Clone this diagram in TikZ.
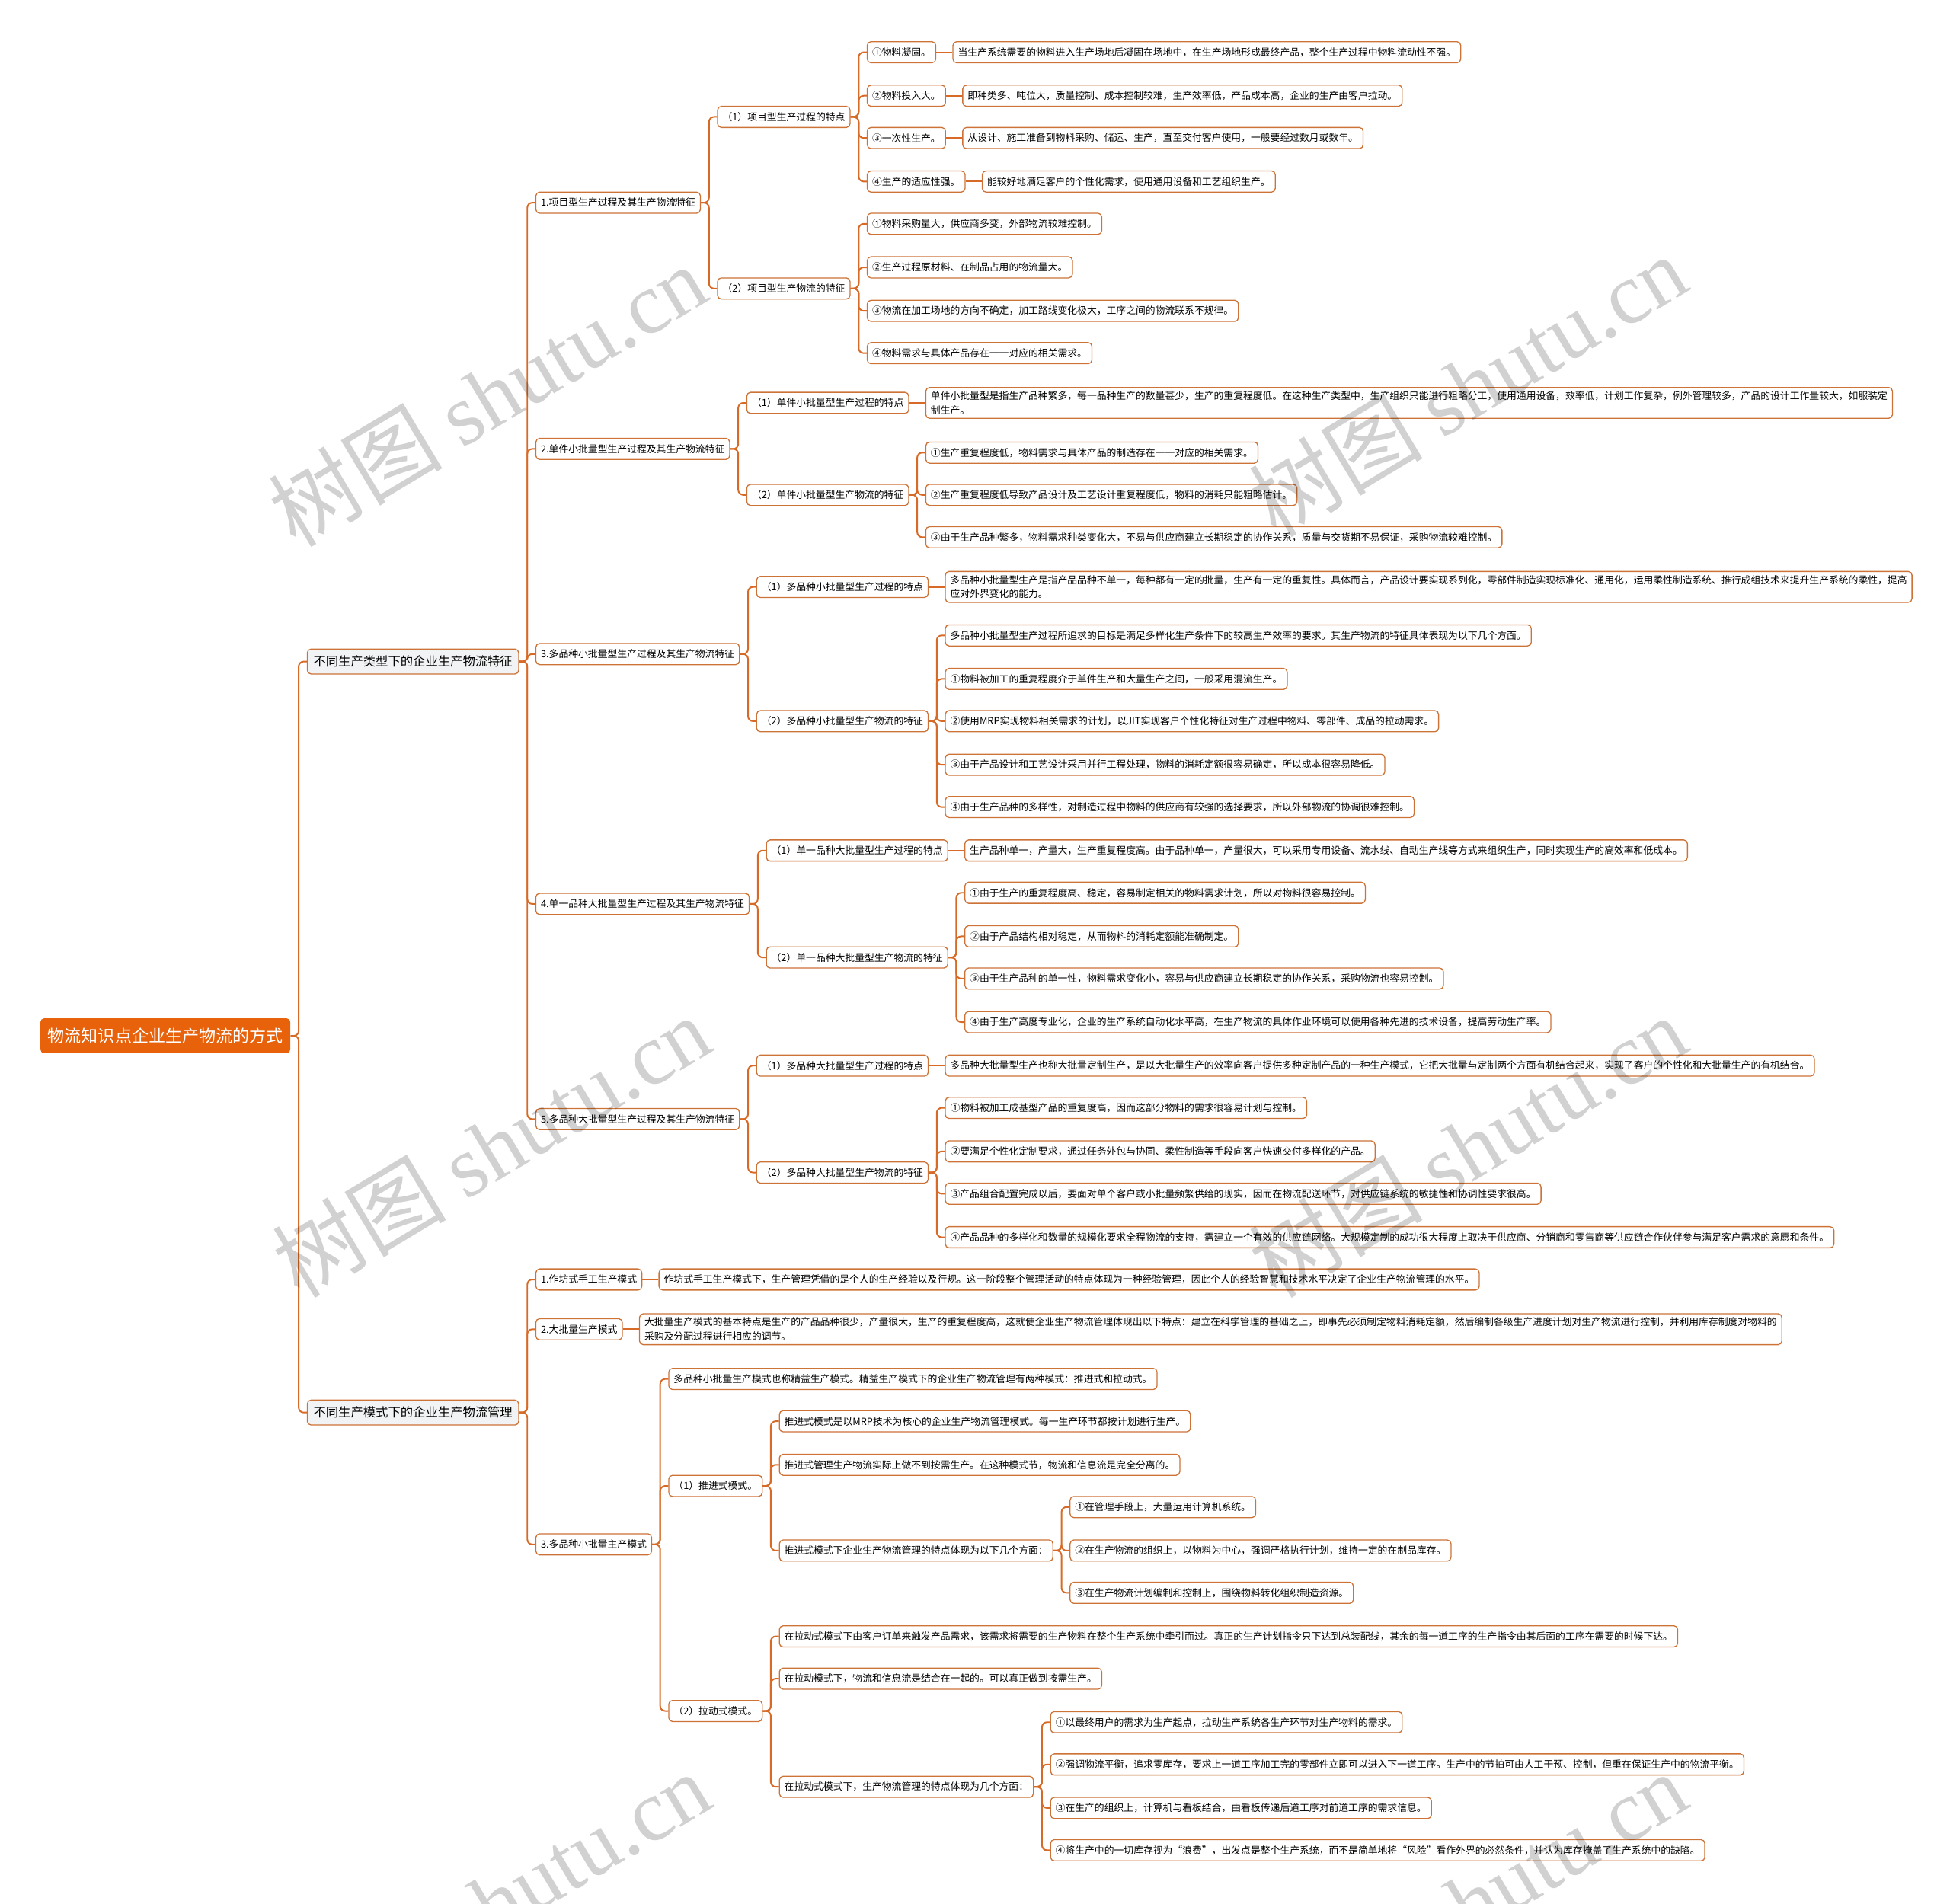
\documentclass[tikz,border=0pt]{standalone}
\usepackage{fontspec}
\setmainfont{Noto Sans CJK SC}
\newfontfamily\wmfont{Liberation Serif}
\usetikzlibrary{positioning}
\definecolor{zhuse}{HTML}{E8620C}
\definecolor{xian}{HTML}{D66A26}
\definecolor{kuang}{HTML}{CD7338}
\definecolor{huidi}{HTML}{F2F3F5}
\begin{document}
\begin{tikzpicture}[x=1pt, y=1pt, node distance=13pt,
    root/.style={fill=zhuse, text=white, rounded corners=3pt, font=\fontsize{13.5}{16}\selectfont, inner xsep=6pt, minimum height=28pt},
    topic/.style={draw=kuang, fill=huidi, rounded corners=3pt, line width=0.8pt, font=\fontsize{10}{12}\selectfont, inner xsep=5pt, minimum height=20pt},
    sub/.style={draw=kuang, fill=white, rounded corners=3pt, line width=0.8pt, font=\fontsize{7.85}{11.5}\selectfont, inner xsep=4pt, inner ysep=3pt, minimum height=17pt, align=left},
    link/.style={draw=xian, line width=1.2pt, rounded corners=4pt},
    wm/.style={text=black, text opacity=0.18, rotate=31, font=\fontsize{70}{70}\selectfont}]
    \useasboundingbox (0,0) rectangle (1568,-1531);

    % 中心主题
    \node[root] (root) at (133,-833) {物流知识点企业生产物流的方式};
    \node[topic, right=of root, yshift=301pt] (typ) {不同生产类型下的企业生产物流特征};
    \node[topic, right=of root, yshift=-303pt] (mod) {不同生产模式下的企业生产物流管理};

    % 不同生产类型
    \node[sub, right=of typ, yshift=369pt] (typ1) {1.项目型生产过程及其生产物流特征};
    \node[sub, right=of typ, yshift=171pt] (typ2) {2.单件小批量型生产过程及其生产物流特征};
    \node[sub, right=of typ, yshift=6pt] (typ3) {3.多品种小批量型生产过程及其生产物流特征};
    \node[sub, right=of typ, yshift=-195pt] (typ4) {4.单一品种大批量型生产过程及其生产物流特征};
    \node[sub, right=of typ, yshift=-368pt] (typ5) {5.多品种大批量型生产过程及其生产物流特征};

    % 1 项目型
    \node[sub, right=of typ1, yshift=69pt] (typ1a) {（1）项目型生产过程的特点};
    \node[sub, right=of typ1, yshift=-69pt] (typ1b) {（2）项目型生产物流的特征};
    \node[sub, right=of typ1a, yshift=52pt] (typ1a1) {①物料凝固。};
    \node[sub, right=of typ1a, yshift=17pt] (typ1a2) {②物料投入大。};
    \node[sub, right=of typ1a, yshift=-17pt] (typ1a3) {③一次性生产。};
    \node[sub, right=of typ1a, yshift=-52pt] (typ1a4) {④生产的适应性强。};
    \node[sub, right=of typ1a1] (typ1a1d) {当生产系统需要的物料进入生产场地后凝固在场地中，在生产场地形成最终产品，整个生产过程中物料流动性不强。};
    \node[sub, right=of typ1a2] (typ1a2d) {即种类多、吨位大，质量控制、成本控制较难，生产效率低，产品成本高，企业的生产由客户拉动。};
    \node[sub, right=of typ1a3] (typ1a3d) {从设计、施工准备到物料采购、储运、生产，直至交付客户使用，一般要经过数月或数年。};
    \node[sub, right=of typ1a4] (typ1a4d) {能较好地满足客户的个性化需求，使用通用设备和工艺组织生产。};
    \node[sub, right=of typ1b, yshift=52pt] (typ1b1) {①物料采购量大，供应商多变，外部物流较难控制。};
    \node[sub, right=of typ1b, yshift=17pt] (typ1b2) {②生产过程原材料、在制品占用的物流量大。};
    \node[sub, right=of typ1b, yshift=-18pt] (typ1b3) {③物流在加工场地的方向不确定，加工路线变化极大，工序之间的物流联系不规律。};
    \node[sub, right=of typ1b, yshift=-52pt] (typ1b4) {④物料需求与具体产品存在一一对应的相关需求。};

    % 2 单件小批量型
    \node[sub, right=of typ2, yshift=37pt] (typ2a) {（1）单件小批量型生产过程的特点};
    \node[sub, right=of typ2, yshift=-37pt] (typ2b) {（2）单件小批量型生产物流的特征};
    \node[sub, right=of typ2a] (typ2ad) {单件小批量型是指生产品种繁多，每一品种生产的数量甚少，生产的重复程度低。在这种生产类型中，生产组织只能进行粗略分工，使用通用设备，效率低，计划工作复杂，例外管理较多，产品的设计工作量较大，如服装定\\制生产。};
    \node[sub, right=of typ2b, yshift=34pt] (typ2b1) {①生产重复程度低，物料需求与具体产品的制造存在一一对应的相关需求。};
    \node[sub, right=of typ2b] (typ2b2) {②生产重复程度低导致产品设计及工艺设计重复程度低，物料的消耗只能粗略估计。};
    \node[sub, right=of typ2b, yshift=-34pt] (typ2b3) {③由于生产品种繁多，物料需求种类变化大，不易与供应商建立长期稳定的协作关系，质量与交货期不易保证，采购物流较难控制。};

    % 3 多品种小批量型
    \node[sub, right=of typ3, yshift=54pt] (typ3a) {（1）多品种小批量型生产过程的特点};
    \node[sub, right=of typ3, yshift=-54pt] (typ3b) {（2）多品种小批量型生产物流的特征};
    \node[sub, right=of typ3a] (typ3ad) {多品种小批量型生产是指产品品种不单一，每种都有一定的批量，生产有一定的重复性。具体而言，产品设计要实现系列化，零部件制造实现标准化、通用化，运用柔性制造系统、推行成组技术来提升生产系统的柔性，提高\\应对外界变化的能力。};
    \node[sub, right=of typ3b, yshift=69pt] (typ3b0) {多品种小批量型生产过程所追求的目标是满足多样化生产条件下的较高生产效率的要求。其生产物流的特征具体表现为以下几个方面。};
    \node[sub, right=of typ3b, yshift=34pt] (typ3b1) {①物料被加工的重复程度介于单件生产和大量生产之间，一般采用混流生产。};
    \node[sub, right=of typ3b] (typ3b2) {②使用MRP实现物料相关需求的计划，以JIT实现客户个性化特征对生产过程中物料、零部件、成品的拉动需求。};
    \node[sub, right=of typ3b, yshift=-35pt] (typ3b3) {③由于产品设计和工艺设计采用并行工程处理，物料的消耗定额很容易确定，所以成本很容易降低。};
    \node[sub, right=of typ3b, yshift=-69pt] (typ3b4) {④由于生产品种的多样性，对制造过程中物料的供应商有较强的选择要求，所以外部物流的协调很难控制。};

    % 4 单一品种大批量型
    \node[sub, right=of typ4, yshift=43pt] (typ4a) {（1）单一品种大批量型生产过程的特点};
    \node[sub, right=of typ4, yshift=-43pt] (typ4b) {（2）单一品种大批量型生产物流的特征};
    \node[sub, right=of typ4a] (typ4ad) {生产品种单一，产量大，生产重复程度高。由于品种单一，产量很大，可以采用专用设备、流水线、自动生产线等方式来组织生产，同时实现生产的高效率和低成本。};
    \node[sub, right=of typ4b, yshift=52pt] (typ4b1) {①由于生产的重复程度高、稳定，容易制定相关的物料需求计划，所以对物料很容易控制。};
    \node[sub, right=of typ4b, yshift=17pt] (typ4b2) {②由于产品结构相对稳定，从而物料的消耗定额能准确制定。};
    \node[sub, right=of typ4b, yshift=-17pt] (typ4b3) {③由于生产品种的单一性，物料需求变化小，容易与供应商建立长期稳定的协作关系，采购物流也容易控制。};
    \node[sub, right=of typ4b, yshift=-52pt] (typ4b4) {④由于生产高度专业化，企业的生产系统自动化水平高，在生产物流的具体作业环境可以使用各种先进的技术设备，提高劳动生产率。};

    % 5 多品种大批量型
    \node[sub, right=of typ5, yshift=43pt] (typ5a) {（1）多品种大批量型生产过程的特点};
    \node[sub, right=of typ5, yshift=-43pt] (typ5b) {（2）多品种大批量型生产物流的特征};
    \node[sub, right=of typ5a] (typ5ad) {多品种大批量型生产也称大批量定制生产，是以大批量生产的效率向客户提供多种定制产品的一种生产模式，它把大批量与定制两个方面有机结合起来，实现了客户的个性化和大批量生产的有机结合。};
    \node[sub, right=of typ5b, yshift=52pt] (typ5b1) {①物料被加工成基型产品的重复度高，因而这部分物料的需求很容易计划与控制。};
    \node[sub, right=of typ5b, yshift=17pt] (typ5b2) {②要满足个性化定制要求，通过任务外包与协同、柔性制造等手段向客户快速交付多样化的产品。};
    \node[sub, right=of typ5b, yshift=-17pt] (typ5b3) {③产品组合配置完成以后，要面对单个客户或小批量频繁供给的现实，因而在物流配送环节，对供应链系统的敏捷性和协调性要求很高。};
    \node[sub, right=of typ5b, yshift=-52pt] (typ5b4) {④产品品种的多样化和数量的规模化要求全程物流的支持，需建立一个有效的供应链网络。大规模定制的成功很大程度上取决于供应商、分销商和零售商等供应链合作伙伴参与满足客户需求的意愿和条件。};

    % 不同生产模式
    \node[sub, right=of mod, yshift=107pt] (mod1) {1.作坊式手工生产模式};
    \node[sub, right=of mod, yshift=67pt] (mod2) {2.大批量生产模式};
    \node[sub, right=of mod, yshift=-106pt] (mod3) {3.多品种小批量主产模式};
    \node[sub, right=of mod1] (mod1d) {作坊式手工生产模式下，生产管理凭借的是个人的生产经验以及行规。这一阶段整个管理活动的特点体现为一种经验管理，因此个人的经验智慧和技术水平决定了企业生产物流管理的水平。};
    \node[sub, right=of mod2] (mod2d) {大批量生产模式的基本特点是生产的产品品种很少，产量很大，生产的重复程度高，这就使企业生产物流管理体现出以下特点：建立在科学管理的基础之上，即事先必须制定物料消耗定额，然后编制各级生产进度计划对生产物流进行控制，并利用库存制度对物料的\\采购及分配过程进行相应的调节。};
    \node[sub, right=of mod3, yshift=133pt] (mod3o) {多品种小批量生产模式也称精益生产模式。精益生产模式下的企业生产物流管理有两种模式：推进式和拉动式。};
    \node[sub, right=of mod3, yshift=47pt] (mod3a) {（1）推进式模式。};
    \node[sub, right=of mod3, yshift=-134pt] (mod3b) {（2）拉动式模式。};
    \node[sub, right=of mod3a, yshift=52pt] (mod3a1) {推进式模式是以MRP技术为核心的企业生产物流管理模式。每一生产环节都按计划进行生产。};
    \node[sub, right=of mod3a, yshift=17pt] (mod3a2) {推进式管理生产物流实际上做不到按需生产。在这种模式节，物流和信息流是完全分离的。};
    \node[sub, right=of mod3a, yshift=-52pt] (mod3a3) {推进式模式下企业生产物流管理的特点体现为以下几个方面：};
    \node[sub, right=of mod3a3, yshift=35pt] (mod3a3a) {①在管理手段上，大量运用计算机系统。};
    \node[sub, right=of mod3a3] (mod3a3b) {②在生产物流的组织上，以物料为中心，强调严格执行计划，维持一定的在制品库存。};
    \node[sub, right=of mod3a3, yshift=-34pt] (mod3a3c) {③在生产物流计划编制和控制上，围绕物料转化组织制造资源。};
    \node[sub, right=of mod3b, yshift=60pt] (mod3b1) {在拉动式模式下由客户订单来触发产品需求，该需求将需要的生产物料在整个生产系统中牵引而过。真正的生产计划指令只下达到总装配线，其余的每一道工序的生产指令由其后面的工序在需要的时候下达。};
    \node[sub, right=of mod3b, yshift=26pt] (mod3b2) {在拉动模式下，物流和信息流是结合在一起的。可以真正做到按需生产。};
    \node[sub, right=of mod3b, yshift=-61pt] (mod3b3) {在拉动式模式下，生产物流管理的特点体现为几个方面：};
    \node[sub, right=of mod3b3, yshift=52pt] (mod3b3a) {①以最终用户的需求为生产起点，拉动生产系统各生产环节对生产物料的需求。};
    \node[sub, right=of mod3b3, yshift=18pt] (mod3b3b) {②强调物流平衡，追求零库存，要求上一道工序加工完的零部件立即可以进入下一道工序。生产中的节拍可由人工干预、控制，但重在保证生产中的物流平衡。};
    \node[sub, right=of mod3b3, yshift=-17pt] (mod3b3c) {③在生产的组织上，计算机与看板结合，由看板传递后道工序对前道工序的需求信息。};
    \node[sub, right=of mod3b3, yshift=-51pt] (mod3b3d) {④将生产中的一切库存视为“浪费”，出发点是整个生产系统，而不是简单地将“风险”看作外界的必然条件，并认为库存掩盖了生产系统中的缺陷。};

    % 连线
    \foreach \p/\cs in {root/{typ,mod}, typ/{typ1,typ2,typ3,typ4,typ5},
        typ1/{typ1a,typ1b}, typ1a/{typ1a1,typ1a2,typ1a3,typ1a4},
        typ1b/{typ1b1,typ1b2,typ1b3,typ1b4},
        typ2/{typ2a,typ2b}, typ2b/{typ2b1,typ2b2,typ2b3},
        typ3/{typ3a,typ3b}, typ3b/{typ3b0,typ3b1,typ3b2,typ3b3,typ3b4},
        typ4/{typ4a,typ4b}, typ4b/{typ4b1,typ4b2,typ4b3,typ4b4},
        typ5/{typ5a,typ5b}, typ5b/{typ5b1,typ5b2,typ5b3,typ5b4},
        mod/{mod1,mod2,mod3}, mod3/{mod3o,mod3a,mod3b},
        mod3a/{mod3a1,mod3a2,mod3a3}, mod3a3/{mod3a3a,mod3a3b,mod3a3c},
        mod3b/{mod3b1,mod3b2,mod3b3}, mod3b3/{mod3b3a,mod3b3b,mod3b3c,mod3b3d}} {
        \foreach \c in \cs {
            \draw[link] (\p.east) -- ++(6.5,0) |- (\c.west);
        }
    }
    % 同一行的说明
    \foreach \p in {typ1a1,typ1a2,typ1a3,typ1a4,typ2a,typ3a,typ4a,typ5a,mod1,mod2} {
        \draw[link] (\p.east) -- (\p d.west);
    }

    % 水印
    \begin{scope}
        \clip (0,0) rectangle (1568,-1531);
        \foreach \wx/\wy in {392/-318, 1180/-310, 395/-922, 1180/-922, 395/-1530, 1180/-1530} {
            \node[wm] at (\wx,\wy) {树图 {\wmfont shutu.cn}};
        }
    \end{scope}
\end{tikzpicture}
\end{document}
